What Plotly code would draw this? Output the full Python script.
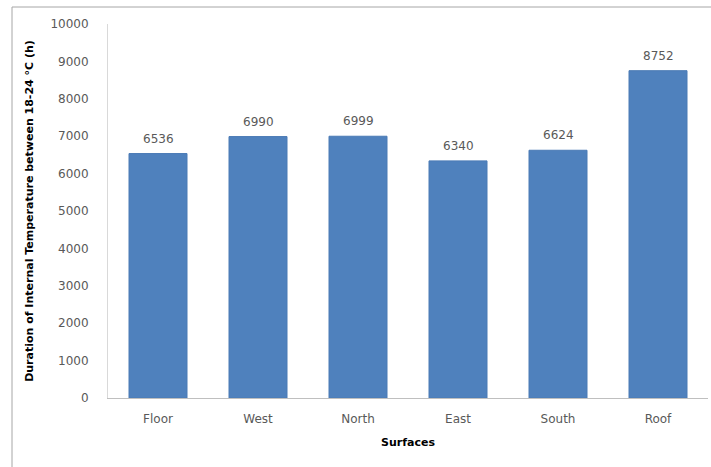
import plotly.graph_objects as go

categories = ["Floor", "West", "North", "East", "South", "Roof"]
values = [6536, 6990, 6999, 6340, 6624, 8752]
y_ticks = [0, 1000, 2000, 3000, 4000, 5000, 6000, 7000, 8000, 9000, 10000]
y_tick_labels = [str(v) for v in y_ticks]

FONT = "DejaVu Sans, Liberation Sans, Arial"

fig = go.Figure(go.Bar(
    x=categories, y=values,
    marker=dict(color="#4f81bd", line=dict(color="#4a7ab5", width=1)),
    width=0.58,
    hoverinfo="x+y",
))

for c, v in zip(categories, values):
    fig.add_annotation(x=c, y=v, text=str(v), showarrow=False,
                       yanchor="middle", yshift=15,
                       font=dict(family=FONT, size=12, color="#595959"))

L, T, W, H = 108, 24, 711, 467
plot_w, plot_h = 600, 374

def px_x(x):
    return (x - L) / plot_w

def px_y(y):
    return (T + plot_h - y) / plot_h

fig.update_layout(
    width=W, height=H,
    margin=dict(l=L, r=W - L - plot_w, t=T, b=H - T - plot_h),
    paper_bgcolor="white", plot_bgcolor="white",
    showlegend=False,
    font=dict(family=FONT, color="#595959", size=12),
    xaxis=dict(
        showline=True, linecolor="#bfbfbf", linewidth=1,
        ticks="", showgrid=False,
        tickfont=dict(size=12, color="#595959"),
        ticklabelstandoff=10,
        title=dict(text="<b>Surfaces</b>", font=dict(size=11, color="#000000"), standoff=12),
    ),
    yaxis=dict(
        range=[0, 10000], tickvals=y_ticks, ticktext=y_tick_labels,
        showline=True, linecolor="#d9d9d9", linewidth=1,
        ticks="", showgrid=False, zeroline=False,
        tickfont=dict(size=12, color="#595959"),
        ticklabelstandoff=16,
        title=dict(text="<b>Duration of Internal Temperature between 18-24 °C (h)</b>",
                   font=dict(size=11, color="#000000"), standoff=14),
    ),
    bargap=0.42,
    shapes=[dict(type="rect", xref="paper", yref="paper",
                 x0=px_x(12), x1=px_x(720), y0=px_y(480), y1=px_y(7),
                 line=dict(color="#a6a6a6", width=1), fillcolor="rgba(0,0,0,0)", layer="below")],
)

fig.write_html("out.html", config={"displayModeBar": False},
               post_script="document.body.style.margin='0';document.body.style.overflow='hidden';")
